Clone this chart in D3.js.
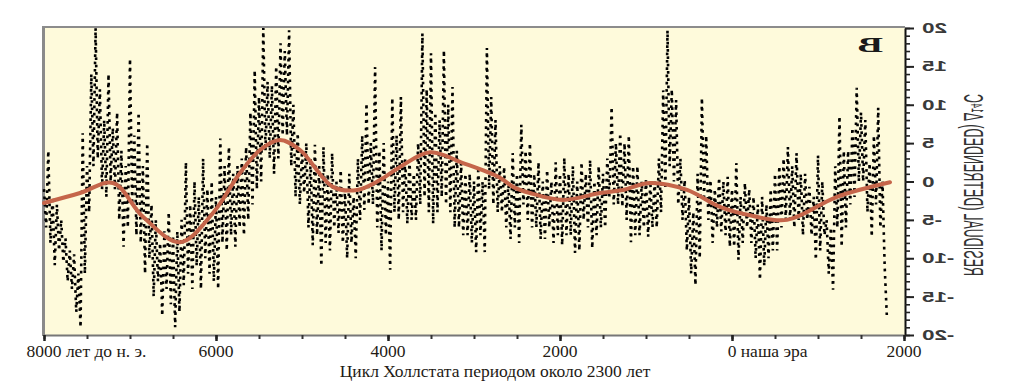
<!DOCTYPE html>
<html>
<head>
<meta charset="utf-8">
<script src="https://cdn.jsdelivr.net/npm/d3@7"></script>
<style>
body { margin: 0; background: #ffffff; }
</style>
</head>
<body>
<div id="chart"></div>
<script>
// residual (detrended) delta-14C, every 25 years
var years = [
	-8000,-7975,-7950,-7925,-7900,-7875,-7850,-7825,-7800,-7775,-7750,-7725,-7700,-7675,-7650,-7625,-7600,-7575,-7550,-7525,
	-7500,-7475,-7450,-7425,-7400,-7375,-7350,-7325,-7300,-7275,-7250,-7225,-7200,-7175,-7150,-7125,-7100,-7075,-7050,-7025,
	-7000,-6975,-6950,-6925,-6900,-6875,-6850,-6825,-6800,-6775,-6750,-6725,-6700,-6675,-6650,-6625,-6600,-6575,-6550,-6525,
	-6500,-6475,-6450,-6425,-6400,-6375,-6350,-6325,-6300,-6275,-6250,-6225,-6200,-6175,-6150,-6125,-6100,-6075,-6050,-6025,
	-6000,-5975,-5950,-5925,-5900,-5875,-5850,-5825,-5800,-5775,-5750,-5725,-5700,-5675,-5650,-5625,-5600,-5575,-5550,-5525,
	-5500,-5475,-5450,-5425,-5400,-5375,-5350,-5325,-5300,-5275,-5250,-5225,-5200,-5175,-5150,-5125,-5100,-5075,-5050,-5025,
	-5000,-4975,-4950,-4925,-4900,-4875,-4850,-4825,-4800,-4775,-4750,-4725,-4700,-4675,-4650,-4625,-4600,-4575,-4550,-4525,
	-4500,-4475,-4450,-4425,-4400,-4375,-4350,-4325,-4300,-4275,-4250,-4225,-4200,-4175,-4150,-4125,-4100,-4075,-4050,-4025,
	-4000,-3975,-3950,-3925,-3900,-3875,-3850,-3825,-3800,-3775,-3750,-3725,-3700,-3675,-3650,-3625,-3600,-3575,-3550,-3525,
	-3500,-3475,-3450,-3425,-3400,-3375,-3350,-3325,-3300,-3275,-3250,-3225,-3200,-3175,-3150,-3125,-3100,-3075,-3050,-3025,
	-3000,-2975,-2950,-2925,-2900,-2875,-2850,-2825,-2800,-2775,-2750,-2725,-2700,-2675,-2650,-2625,-2600,-2575,-2550,-2525,
	-2500,-2475,-2450,-2425,-2400,-2375,-2350,-2325,-2300,-2275,-2250,-2225,-2200,-2175,-2150,-2125,-2100,-2075,-2050,-2025,
	-2000,-1975,-1950,-1925,-1900,-1875,-1850,-1825,-1800,-1775,-1750,-1725,-1700,-1675,-1650,-1625,-1600,-1575,-1550,-1525,
	-1500,-1475,-1450,-1425,-1400,-1375,-1350,-1325,-1300,-1275,-1250,-1225,-1200,-1175,-1150,-1125,-1100,-1075,-1050,-1025,
	-1000,-975,-950,-925,-900,-875,-850,-825,-800,-775,-750,-725,-700,-675,-650,-625,-600,-575,-550,-525,
	-500,-475,-450,-425,-400,-375,-350,-325,-300,-275,-250,-225,-200,-175,-150,-125,-100,-75,-50,-25,
	0,25,50,75,100,125,150,175,200,225,250,275,300,325,350,375,400,425,450,475,
	500,525,550,575,600,625,650,675,700,725,750,775,800,825,850,875,900,925,950,975,
	1000,1025,1050,1075,1100,1125,1150,1175,1200,1225,1250,1275,1300,1325,1350,1375,1400,1425,1450,1475,
	1500,1525,1550,1575,1600,1625,1650,1675,1700,1725,1750,1775,1800
];
var residual = [
	-1,-6, 4,-8, -2,-10.9, -3,-9, -5,-10.5, -7.4,-13, -9,-14, -9.5,-17, -12,-19, 6.3,-12,
	2,-4, 14,2, 20,3, 12,-1, 8,-2, 14,0, 7,-1, 9,-5, 4,-8.5, 2,-6,
	16,-3, 6,-7, 9,-8, 2,-12, 5,-10, -3,-15, -5,-13, -8,-17.5, -6.5,-14, -4,-16,
	-7,-19, -6.5,-17, -5,-13.5, 2.5,-12, -3,-14, 0,-11, -2,-14, 3,-10, -1,-12, 0,-13,
	-2,-14, 5.6,-8, 2,-9, 4.5,-7, 1,-8.5, 2,-6, 3,-7, 4.5,-5, 9,-3, 14.5,-1,
	11,0, 20,4, 13,3, 12.5,1, 15,3, 18,6, 17,6, 19.7,2, 10,-2, 6.3,-3,
	4,-1.5, 5,-6, 3,-8.3, 4.8,-7, 2,-11, 4.5,-8, 1,-9, 3.7,-6, 0,-6.7, 1.5,-8,
	-1,-10, 1,-8, -2,-10, 3,-5, 6,-3.7, 10.2,-3, 5,-3, 14.9,-6, 4,-9, 5,-7,
	0,-11.5, 10.9,-4, 6,-5, 11,-4, 3,-5.5, 2.8,-5, 1,-5, 5,-3, 19.3,-2, 12,-4,
	16.7,-5.5, 9,-4, 8,-2, 17.1,-3, 10,-4, 12.3,-6, 4,-6, 2.4,-7, 1,-7, 1,-8,
	0,-9.2, 1.9,-7, 0,-9.2, 17.4,-1, 11,-3, 8,-4, 2,-4, 1.9,-6, 0,-7.5, 3.7,-6,
	1,-8, 7.4,-3, 4,-5, 5,-6, 1,-6, 2.5,-7.5, 0,-7.5, 1.5,-6, 0,-8, 2.5,-7,
	1,-8.3, 3.1,-7, 1,-7, 2,-9.3, 0,-9, 2.5,-5, 1,-6, 2.8,-8.7, 0,-7, 2,-6,
	1,-6, 3,-2, 9.7,-3, 5,-3, 6.3,-3.3, 5,-5, 6,-7.9, 2,-7, 2,-7, 0,-6,
	0.2,-7.2, 0,-6, 0,-6, 3,-4, 11.9,-1, 19.7,2, 12,0, 10.6,-3, 3,-5, 0.2,-9,
	-2,-12, -4,-13.5, 1,-10, 10.9,-2, 6,-5, 0.2,-8, -1,-6, 0.5,-6.5, 0,-7, 0.6,-8.5,
	-1,-8.5, 2.4,-10.2, -2,-8, -0.2,-6, -1,-8, -2,-10, -3,-12.8, -2,-11, -3,-10, -1,-9,
	1,-9, 2,-6, 3,-5, 4.5,-5, 2,-6, 3.7,-5, 1,-7, 1,-5, -0.7,-7, -2,-10.2,
	3.4,-9, 0,-7, -5,-12, -6,-14.1, 2,-6, 8.5,-8.5, 4,-6, 4,-3, 7,-2, 12.2,0,
	9,0, 8,-4, 2.4,-7.2, 6,-3, 9.6,-6, 0,-11, -17.4
];

// smooth red curve (the ~2300 year Hallstatt cycle)
var trendYears = [-8000,-7581,-7198,-6849,-6419,-6035,-5721,-5488,-5256,-5023,-4640,-4360,-4093,-3860,-3512,-3128,-2698,-2546,-2349,-1965,-1535,-1267,-953,-523,-140,209,640,1221,1837];
var trendValues = [-2.8,-1.5,-0.2,-4.6,-7.9,-4.1,1.1,4.1,5.4,4.1,-0.7,-1.1,0.2,1.9,3.8,2.4,0.5,-0.7,-1.5,-2.4,-1.5,-1.1,-0.2,-1.1,-3.3,-4.4,-5.0,-2.0,-0.1];

var xTickValues = [-8000,-6000,-4000,-2000,0,2000];
var xTickLabels = ['8000 лет до н. э.','6000','4000','2000','0 наша эра','2000'];
var yTickValues = [-20,-15,-10,-5,0,5,10,15,20];
var yTickLabels = ['-20','-15','-10','-5','0','5','10','15','20'];
var xAxisTitle = 'Цикл Холлстата периодом около 2300 лет';
var yAxisTitle = 'RESIDUAL (DETRENDED) Δ¹⁴C';
var panelLetter = 'B';

var params = {
	width: 1024,
	height: 384,
	left: 44,
	right: 904,
	axisX: 905,
	top: 28,
	bottom: 335,
	plotColor: '#fefadb',
	trendColor: '#c5654a'
};

function createChart(){
	var svg = d3.select('#chart').append('svg')
		.attr('width', params.width)
		.attr('height', params.height);

	var x = d3.scaleLinear().domain([-8000, 2000]).range([params.left, params.right]);
	var y = d3.scaleLinear().domain([-20, 20]).range([params.bottom, params.top]);

	// plot background and grey frame (left, top)
	svg.append('rect')
		.attr('x', params.left - 1)
		.attr('y', params.top - 1)
		.attr('width', params.axisX - params.left + 1)
		.attr('height', params.bottom - params.top + 1)
		.style('fill', params.plotColor);
	svg.append('line')
		.attr('x1', params.left - 0.5).attr('x2', params.left - 0.5)
		.attr('y1', params.top - 2).attr('y2', params.bottom + 1)
		.style('stroke', '#8a8a8a').style('stroke-width', 3);
	svg.append('line')
		.attr('x1', params.left - 2).attr('x2', params.axisX)
		.attr('y1', params.top - 1).attr('y2', params.top - 1)
		.style('stroke', '#8c8c8c').style('stroke-width', 2);

	// bottom axis: minor every 500 years, major every 2000
	var minorX = svg.append('g')
		.attr('transform', 'translate(0,' + params.bottom + ')')
		.call(d3.axisBottom(x).tickValues(d3.range(-8000, 2001, 500)).tickSize(4).tickSizeOuter(0).tickFormat(''));
	minorX.select('.domain').style('stroke', '#777').style('stroke-width', 2);
	minorX.selectAll('.tick line').style('stroke', '#333').style('stroke-width', 2);
	var majorX = svg.append('g')
		.attr('transform', 'translate(0,' + params.bottom + ')')
		.call(d3.axisBottom(x).tickValues(xTickValues).tickSize(6).tickFormat(''));
	majorX.select('.domain').remove();
	majorX.selectAll('.tick line').style('stroke', '#222').style('stroke-width', 2.5);

	// bottom labels: number centred on the tick, words trailing after it
	xTickValues.forEach(function(v, i){
		var t = svg.append('text')
			.attr('x', x(v))
			.attr('y', 357)
			.style('font-family', '"Liberation Serif", "Times New Roman", serif')
			.style('font-size', '17.5px')
			.style('fill', '#231a14')
			.text(xTickLabels[i]);
		var numLen = xTickLabels[i].split(' ')[0].length;
		var w = t.node().getSubStringLength(0, numLen);
		t.attr('x', x(v) - w / 2);
	});

	svg.append('text')
		.attr('x', 495)
		.attr('y', 377)
		.attr('text-anchor', 'middle')
		.style('font-family', '"Liberation Serif", "Times New Roman", serif')
		.style('font-size', '17.5px')
		.style('fill', '#231a14')
		.text(xAxisTitle);

	// right axis (the source figure is mirrored)
	var minorY = svg.append('g')
		.attr('transform', 'translate(' + params.axisX + ',0)')
		.call(d3.axisRight(y).tickValues(d3.range(-20, 21, 1)).tickSize(5).tickSizeOuter(0).tickFormat(''));
	minorY.select('.domain').style('stroke', '#111').style('stroke-width', 2);
	minorY.selectAll('.tick line').style('stroke', '#222').style('stroke-width', 1.6);
	var majorY = svg.append('g')
		.attr('transform', 'translate(' + params.axisX + ',0)')
		.call(d3.axisRight(y).tickValues(yTickValues).tickSize(9).tickFormat(''));
	majorY.select('.domain').remove();
	majorY.selectAll('.tick line').style('stroke', '#222').style('stroke-width', 2);

	svg.selectAll('.ylabel')
		.data(yTickValues)
		.enter()
		.append('text')
			.attr('class', 'ylabel')
			.attr('transform', function(d){ return 'translate(922,' + y(d) + ') scale(-1.6,1)'; })
			.attr('dy', '0.36em')
			.attr('text-anchor', 'end')
			.style('font-family', '"Liberation Sans", Arial, sans-serif')
			.style('font-weight', 'bold')
			.style('font-size', '14px')
			.style('fill', '#3a3a3a')
			.text(function(d, i){ return yTickLabels[i]; });

	// mirrored, condensed axis title: stretch across the glyphs rather than along the text
	svg.append('text')
		.attr('transform', 'translate(964,185) scale(-2.2,1) rotate(-90)')
		.attr('text-anchor', 'middle')
		.style('font-family', '"Liberation Sans", "DejaVu Sans", Arial, sans-serif')
		.style('font-size', '12.5px')
		.style('fill', '#333')
		.text(yAxisTitle);

	svg.append('text')
		.attr('transform', 'translate(883,52) scale(-1.8,1)')
		.style('font-family', '"Liberation Serif", "Times New Roman", serif')
		.style('font-weight', 'bold')
		.style('font-size', '21px')
		.style('fill', '#1a1a1a')
		.text(panelLetter);

	// dotted residual series
	var line = d3.line()
		.x(function(d, i){ return x(years[i]); })
		.y(function(d){ return y(d); });
	svg.append('path')
		.datum(residual)
		.attr('d', line)
		.style('fill', 'none')
		.style('stroke', '#000')
		.style('stroke-width', 2.6)
		.style('stroke-dasharray', '2.7,4.6');

	// smooth trend on top
	var trend = d3.line()
		.x(function(d, i){ return x(trendYears[i]); })
		.y(function(d){ return y(d); })
		.curve(d3.curveCatmullRom);
	svg.append('path')
		.datum(trendValues)
		.attr('d', trend)
		.style('fill', 'none')
		.style('stroke', params.trendColor)
		.style('stroke-width', 4)
		.style('stroke-linecap', 'round');
}

createChart();
</script>
</body>
</html>
